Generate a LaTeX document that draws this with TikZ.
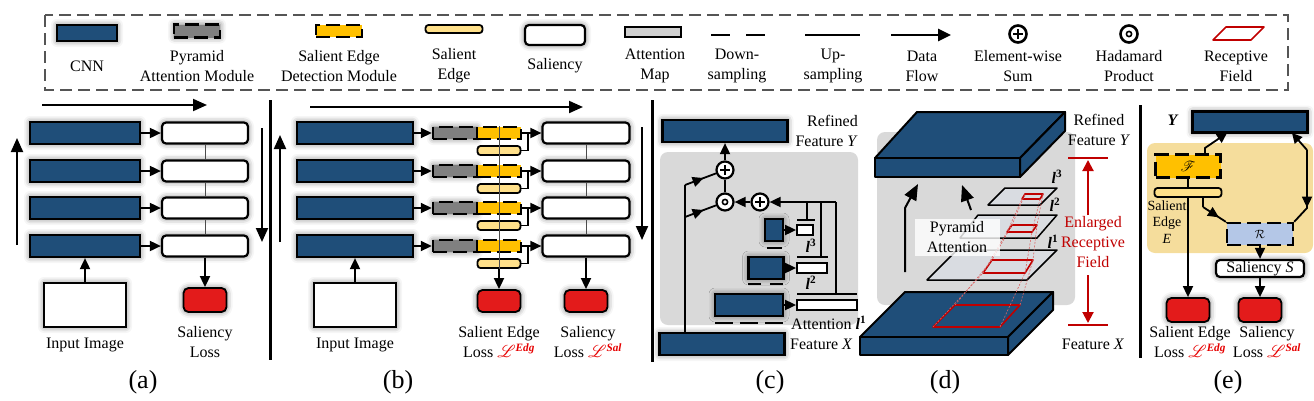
\documentclass[tikz,border=0pt]{standalone}
\usepackage{fontspec}
\setmainfont{Liberation Serif}
\usepackage{mathrsfs}
\usetikzlibrary{arrows.meta,shadows.blur,decorations.markings,calc}
\definecolor{cnnblue}{HTML}{1F4E79}
\definecolor{edgeyel}{HTML}{FFC000}
\definecolor{paleyel}{HTML}{FFE08A}
\definecolor{pagray}{HTML}{808080}
\definecolor{lossred}{HTML}{E31B1B}
\definecolor{bggray}{HTML}{D9D9D9}
\definecolor{beige}{HTML}{F5DD9C}
\definecolor{rblue}{HTML}{B4C7E7}
\definecolor{recred}{HTML}{C00000}
\definecolor{planegray}{HTML}{D9DCE1}
\definecolor{labred}{HTML}{E60000}
\definecolor{attgray}{HTML}{D0D0D0}
\definecolor{legdash}{HTML}{555555}
\newcommand{\Lsup}[1]{\textcolor{labred}{$\mathscr{L}$\textsuperscript{\bfseries\itshape #1}}}
\newcommand{\lvar}[1]{\textbf{\textit{l}}\textsuperscript{\bfseries #1}}
\tikzset{
  glow/.style={blur shadow={shadow xshift=0pt,shadow yshift=0pt,shadow blur radius=6pt,shadow opacity=55}},
  cnn/.style={draw=black,line width=2.2pt,fill=cnnblue,inner sep=0pt,glow},
  salbox/.style={draw=black,line width=2.2pt,fill=white,rounded corners=4pt,inner sep=0pt,glow},
  lossbox/.style={draw=black,line width=1.8pt,fill=lossred,rounded corners=5pt,inner sep=0pt,glow},
  imgbox/.style={draw=black,line width=2.4pt,fill=white,inner sep=0pt,glow},
  pambox/.style={draw=black,line width=2.4pt,fill=pagray,dash pattern=on 14pt off 6pt,inner sep=0pt},
  sedbox/.style={draw=black,line width=2.4pt,fill=edgeyel,dash pattern=on 14pt off 6pt,inner sep=0pt},
  rbox/.style={draw=black,line width=2.4pt,fill=rblue,dash pattern=on 14pt off 6pt,inner sep=0pt},
  edgebar/.style={draw=black,line width=1.8pt,fill=paleyel,rounded corners=3pt,inner sep=0pt},
  attbox/.style={draw=black,line width=1.8pt,fill=white,inner sep=0pt},
  flow/.style={line width=1.8pt,-{Triangle[length=11pt,width=10pt]}},
  bigflow/.style={line width=2pt,-{Triangle[length=14pt,width=12pt]}},
  plain/.style={line width=1.8pt},
  thinlink/.style={line width=1pt,draw=black!70},
  sepline/.style={line width=3pt},
  osum/.style={circle,draw=black,line width=2.2pt,fill=white,minimum size=17pt,inner sep=0pt,
     path picture={\draw[line width=1.8pt] ([xshift=-4.8pt]path picture bounding box.center) -- ([xshift=4.8pt]path picture bounding box.center);
     \draw[line width=1.8pt] ([yshift=-4.8pt]path picture bounding box.center) -- ([yshift=4.8pt]path picture bounding box.center);}},
  oprod/.style={circle,draw=black,line width=2.2pt,fill=white,minimum size=17pt,inner sep=0pt,
     path picture={\draw[line width=1.6pt] (path picture bounding box.center) circle[radius=2.6pt];}},
  lab/.style={align=center,inner sep=0pt},
  plab/.style={inner sep=0pt,font=\fontsize{26}{30}\selectfont},
  midarrow/.style={postaction={decorate},decoration={markings,mark=at position #1 with {\arrow{Triangle[length=11pt,width=10pt]}}}},
  slab/.style={draw=black,line width=2pt,fill=cnnblue,line join=round},
  plane/.style={draw=black,line width=1.5pt,fill=planegray,line join=round},
  rf/.style={draw=recred,line width=1.6pt,line join=round},
  rfdash/.style={draw=recred!60,line width=0.6pt,dash pattern=on 2pt off 1.5pt},
}
\begin{document}
\begin{tikzpicture}[x=1pt,y=-1pt,font=\fontsize{16}{20}\selectfont]
\useasboundingbox (0,0) rectangle (1314,400);
% ---------------- legend ----------------
\draw[line width=2.6pt,draw=legdash,dash pattern=on 12pt off 6pt] (45,15) rectangle (1288,90);
\node[cnn,minimum width=60,minimum height=16] (lgcnn) at (87,33) {};
\node[lab] (lgcnnt) at (87,66) {CNN};
\node[pambox,glow,minimum width=46,minimum height=13] (lgpam) at (197,31) {};
\node[lab] (lgpamt) at (197,66) {Pyramid\\Attention Module};
\node[sedbox,minimum width=46,minimum height=12] (lgsed) at (339,31) {};
\node[lab] (lgsedt) at (339,66) {Salient Edge\\Detection Module};
\node[edgebar,minimum width=57,minimum height=8] (lgedge) at (454,29) {};
\node[lab] (lgedget) at (454,66) {Salient\\Edge};
\node[salbox,minimum width=60,minimum height=20] (lgsal) at (555,35) {};
\node[lab] (lgsalt) at (555,66) {Saliency};
\node[attbox,fill=attgray,line width=2.4pt,minimum width=56,minimum height=10] (lgatt) at (653,32) {};
\node[lab] (lgattt) at (655,66) {Attention\\Map};
\coordinate (ld1) at (711,35); \coordinate (ld2) at (765,35);
\draw[line width=2.6pt,dash pattern=on 19pt off 16pt] (ld1) -- (ld2);
\node[lab] (lgdown) at (737,66) {Down-\\sampling};
\coordinate (lu1) at (805,35); \coordinate (lu2) at (860,35);
\draw[line width=2.6pt] (lu1) -- (lu2);
\node[lab] (lgup) at (833,66) {Up-\\sampling};
\coordinate (lf1) at (891,35); \coordinate (lf2) at (951,35);
\draw[line width=2.6pt,-{Triangle[length=13pt,width=12pt]}] (lf1) -- (lf2);
\node[lab] (lgflow) at (922,66) {Data\\Flow};
\node[osum,line width=2.6pt] (lgsum) at (1018,34) {};
\node[lab] (lgsumt) at (1018,66) {Element-wise\\Sum};
\node[oprod,line width=2.6pt] (lgprod) at (1129,34) {};
\node[lab] (lgprodt) at (1129,66) {Hadamard\\Product};
\draw[rf] (1213,40) -- (1226,27) -- (1264,27) -- (1251,40) -- cycle;
\node[lab] (lgrf) at (1236,66) {Receptive\\Field};
% ---------------- panel (a) ----------------
\node[cnn,minimum width=110,minimum height=22] (ac1) at (85,133) {};
\node[cnn,minimum width=110,minimum height=22] (ac2) at (85,171) {};
\node[cnn,minimum width=110,minimum height=22] (ac3) at (85,208) {};
\node[cnn,minimum width=110,minimum height=22] (ac4) at (85,246) {};
\node[salbox,minimum width=86,minimum height=21] (as1) at (205,133) {};
\node[salbox,minimum width=86,minimum height=21] (as2) at (205,171) {};
\node[salbox,minimum width=86,minimum height=21] (as3) at (205,208) {};
\node[salbox,minimum width=86,minimum height=21] (as4) at (205,246) {};
\draw[flow] (ac1.east) -- (as1.west);
\draw[flow] (ac2.east) -- (as2.west);
\draw[flow] (ac3.east) -- (as3.west);
\draw[flow] (ac4.east) -- (as4.west);
\draw[thinlink] (as1.south) -- (as2.north);
\draw[thinlink] (as2.south) -- (as3.north);
\draw[thinlink] (as3.south) -- (as4.north);
\coordinate (at1) at (42,105); \coordinate (at2) at (207,105);
\draw[bigflow] (at1) -- (at2);
\coordinate (al1) at (17,245); \coordinate (al2) at (17,138);
\draw[bigflow] (al1) -- (al2);
\coordinate (ar1) at (262,128); \coordinate (ar2) at (262,242);
\draw[bigflow] (ar1) -- (ar2);
\node[imgbox,minimum width=82,minimum height=44] (ain) at (85,305) {};
\draw[flow] (ain.north) -- (ac4.south);
\node[lossbox,minimum width=43,minimum height=24] (aloss) at (205,300) {};
\draw[flow] (as4.south) -- (aloss.north);
\node[lab] (aint) at (85,345) {Input Image};
\node[lab] (alosst) at (205,342) {Saliency\\Loss};
\node[plab] (pa) at (143,382) {(a)};
\draw[sepline] (270,100) -- (270,360);
% ---------------- panel (b) ----------------
\foreach \i/\r in {1/133,2/171,3/208,4/246}{
  \node[cnn,minimum width=116,minimum height=22] (bc\i) at (355,\r) {};
  \node[pambox,glow,minimum width=44,minimum height=12] (bp\i) at (455,\r) {};
  \node[sedbox,minimum width=44,minimum height=12] (bs\i) at (499,\r) {};
  \node[edgebar,minimum width=43,minimum height=9] (be\i) at (499,\r+17.5) {};
  \node[salbox,minimum width=87,minimum height=21] (bsal\i) at (586,\r) {};
  \coordinate (bj\i) at (528,\r);
  \draw[flow] (bc\i.east) -- (bp\i.west);
  \draw[plain] (bs\i.east) -- (bj\i);
  \draw[plain] (be\i.east) -| (bj\i);
  \draw[flow] (bj\i) -- (bsal\i.west);
}
\node[lossbox,minimum width=43,minimum height=22] (bloss1) at (499,301) {};
\node[lossbox,minimum width=43,minimum height=22] (bloss2) at (586,301) {};
\draw[thinlink] (bs1.north) -- (be4.south);
\draw[flow] (be4.south) -- (bloss1.north);
\draw[thinlink] (bsal1.south) -- (bsal2.north);
\draw[thinlink] (bsal2.south) -- (bsal3.north);
\draw[thinlink] (bsal3.south) -- (bsal4.north);
\draw[flow] (bsal4.south) -- (bloss2.north);
\coordinate (bt1) at (310,107); \coordinate (bt2) at (583,107);
\draw[bigflow] (bt1) -- (bt2);
\coordinate (bl1) at (280,242); \coordinate (bl2) at (280,135);
\draw[bigflow] (bl1) -- (bl2);
\coordinate (br1) at (642,127); \coordinate (br2) at (642,240);
\draw[bigflow] (br1) -- (br2);
\node[imgbox,minimum width=82,minimum height=44] (bin) at (355,305) {};
\draw[flow] (bin.north) -- (bc4.south);
\node[lab] (bint) at (355,345) {Input Image};
\node[lab] (bl1t) at (499,342) {Salient Edge\\Loss \Lsup{Edg}};
\node[lab] (bl2t) at (588,342) {Saliency\\Loss \Lsup{Sal}};
\node[plab] (pb) at (398,382) {(b)};
\draw[sepline] (652,100) -- (652,362);
% ---------------- panel (c) ----------------
\fill[bggray,rounded corners=8pt] (660,152) rectangle (858,325);
\node[cnn,minimum width=125,minimum height=22] (cY) at (725,131) {};
\node[cnn,minimum width=125,minimum height=22] (cX) at (722,344) {};
\node[lab,anchor=east,align=right] (cYt) at (858,131) {Refined\\Feature \textit{Y}};
\node[lab,anchor=west] (cXt) at (790,344) {Feature \textit{X}};
\node[osum] (cp1) at (725,170) {};
\node[oprod] (cd) at (725,202) {};
\node[osum] (cp2) at (760,202) {};
\draw[flow] (cp1.north) -- (cY.south -| cp1);
\draw[plain] (cd.north) -- (cp1.south);
\draw[flow] (cp2.west) -- (cd.east);
\coordinate (cb1) at (685,185); \coordinate (cb2) at (685,217);
\draw[plain] (cX.north -| cb1) -- (cb1);
\draw[plain,midarrow=0.6] (cb1) -- (cp1);
\draw[plain,midarrow=0.6] (cb2) -- (cd);
\coordinate (cr) at (836,202); \coordinate (cv3) at (807,202); \coordinate (cv2) at (821,202);
\draw[flow] (cr) -- (cp2.east);
\node[attbox,minimum width=16,minimum height=10] (ca3) at (805,230) {};
\node[attbox,minimum width=30,minimum height=10] (ca2) at (812,268) {};
\node[attbox,minimum width=60,minimum height=10] (ca1) at (827,305) {};
\coordinate (cb3) at (807,220); \coordinate (cb2b) at (821,257); \coordinate (cb1b) at (836,294);
\draw[plain] (cv3) -- (cb3);
\draw[plain] (cv2) -- (cb2b);
\draw[plain] (cr) -- (cb1b);
\draw[plain] (797,220) -- (815,220);
\draw[plain] (797,257) -- (828,257);
\draw[plain] (797,294) -- (857,294);
\node[cnn,minimum width=18,minimum height=22] (cc3) at (774,230) {};
\node[cnn,minimum width=35,minimum height=22] (cc2) at (766,268) {};
\node[cnn,minimum width=68,minimum height=22] (cc1) at (749,305) {};
\draw[flow] (cc3.east) -- (ca3.west);
\draw[flow] (cc2.east) -- (ca2.west);
\draw[flow] (cc1.east) -- (ca1.west);
\draw[plain] (767,248) -- (782,248);
\draw[line width=1.8pt,dash pattern=on 13pt off 9pt] (748,284) -- (783,284);
\draw[line width=1.8pt,dash pattern=on 18pt off 7pt] (715,323) -- (783,323);
\node[lab] (cl3) at (811,246) {\lvar{3}};
\node[lab] (cl2) at (811,283) {\lvar{2}};
\node[lab,anchor=west] (cl1) at (791,323) {Attention \lvar{1}};
\node[plab] (pc) at (770,382) {(c)};
% ---------------- panel (d) ----------------
\fill[bggray,rounded corners=8pt] (877,132) rectangle (1075,305);
\filldraw[slab] (860,337) -- (905,292) -- (1053,292) -- (1008,337) -- cycle;
\filldraw[slab] (860,337) rectangle (1008,355);
\filldraw[slab] (1008,337) -- (1053,292) -- (1053,310) -- (1008,355) -- cycle;
\draw[rf] (933,327) -- (955,305) -- (1020,305) -- (1000,327) -- cycle;
\filldraw[plane] (927,280) -- (957,250) -- (1057,250) -- (1027,280) -- cycle;
\draw[rf] (983,273) -- (992,260) -- (1033,260) -- (1025,273) -- cycle;
\filldraw[plane] (960,238) -- (978,215) -- (1057,215) -- (1037,238) -- cycle;
\draw[rf] (1007,232) -- (1012,225) -- (1037,225) -- (1032,232) -- cycle;
\filldraw[plane] (988,205) -- (1005,188) -- (1057,188) -- (1040,205) -- cycle;
\draw[rf] (1022,199) -- (1025,194) -- (1043,194) -- (1040,199) -- cycle;
\draw[rfdash] (955,305) -- (992,260) -- (1012,225) -- (1025,194);
\draw[rfdash] (1020,305) -- (1033,260) -- (1037,225) -- (1043,194);
\draw[rfdash] (933,327) -- (983,273) -- (1007,232) -- (1022,199);
\draw[rfdash] (1000,327) -- (1025,273) -- (1032,232) -- (1040,199);
\filldraw[slab] (875,158) -- (917,112) -- (1065,112) -- (1020,158) -- cycle;
\filldraw[slab] (875,158) rectangle (1020,177);
\filldraw[slab] (1020,158) -- (1065,112) -- (1065,131) -- (1020,177) -- cycle;
\coordinate (da1) at (905,272); \coordinate (da2) at (905,208); \coordinate (da3) at (918,184);
\draw[line width=2pt,-{Triangle[length=16pt,width=13pt]}] (da1) -- (da2) -- (da3);
\coordinate (db1) at (971,210); \coordinate (db2) at (962,185);
\draw[line width=2pt,-{Triangle[length=16pt,width=13pt]}] (db1) -- (db2);
\node[fill=white,fill opacity=0.8,text opacity=1,align=center,minimum width=85,minimum height=37,inner sep=0pt] (dpa) at (957,237) {Pyramid\\Attention};
\node[lab] (dl3) at (1057,177) {\lvar{3}};
\node[lab] (dl2) at (1055,205) {\lvar{2}};
\node[lab] (dl1) at (1053,242) {\lvar{1}};
\node[lab] (dYt) at (1099,130) {Refined\\Feature \textit{Y}};
\draw[recred,line width=2pt] (1068,158) -- (1108,158);
\draw[recred,line width=2pt] (1068,325) -- (1108,325);
\coordinate (dr1) at (1088,215); \coordinate (dr2) at (1088,160);
\coordinate (dr3) at (1088,275); \coordinate (dr4) at (1088,323);
\draw[recred,line width=2pt,-{Triangle[length=11pt,width=11pt]}] (dr1) -- (dr2);
\draw[recred,line width=2pt,-{Triangle[length=11pt,width=11pt]}] (dr3) -- (dr4);
\node[lab,text=recred] (dert) at (1093,242) {Enlarged\\Receptive\\Field};
\node[lab] (dXt) at (1093,344) {Feature \textit{X}};
\node[plab] (pd) at (945,382) {(d)};
\draw[sepline] (1140,105) -- (1140,358);
% ---------------- panel (e) ----------------
\fill[beige,rounded corners=8pt] (1147,143) rectangle (1313,253);
\node[cnn,minimum width=115,minimum height=21] (eY) at (1250,122) {};
\node[lab] (eYt) at (1173,120) {\textbf{\textit{Y}}};
\node[sedbox,minimum width=65,minimum height=23] (eF) at (1188,166) {\Large$\mathscr{F}$};
\node[edgebar,minimum width=67,minimum height=9] (eE) at (1188,192.5) {};
\node[lab,font=\fontsize{14}{16.5}\selectfont] (eEt) at (1167,222) {Salient\\Edge\\\textit{E}};
\node[rbox,minimum width=66,minimum height=22] (eR) at (1260,234) {\large$\mathcal{R}$};
\node[salbox,minimum width=88,minimum height=17] (eS) at (1260,268.5) {Saliency \textit{S}};
\node[lossbox,minimum width=43,minimum height=24] (el1) at (1188,310) {};
\node[lossbox,minimum width=43,minimum height=24] (el2) at (1260,310) {};
\draw[plain] (eF.south) -- (eE.north);
\draw[flow] (eE.south) -- (el1.north);
\draw[flow] (eR.south) -- (eS.north);
\draw[flow] (eS.south) -- (el2.north);
\coordinate (eyl) at (1227,133); \coordinate (ey1) at (1205,148);
\draw[plain,-{Triangle[length=10pt,width=10pt]}] (eF.north -| ey1) -- (ey1) -- (eyl);
\coordinate (eyr) at (1292,133); \coordinate (ey2) at (1307,150); \coordinate (ey3) at (1307,208);
\draw[plain,-{Triangle[length=10pt,width=10pt]}] (ey2) -- (eyr);
\draw[plain,midarrow=0.75] (ey2) -- (ey3) -- (eR.north east);
\coordinate (ee1) at (1203,207);
\draw[plain] (eE.south -| ee1) -- (ee1);
\draw[plain,midarrow=0.7] (ee1) -- (eR.north west);
\node[lab] (el1t) at (1190,342) {Salient Edge\\Loss \Lsup{Edg}};
\node[lab] (el2t) at (1267,342) {Saliency\\Loss \Lsup{Sal}};
\node[plab] (pe) at (1228,382) {(e)};
\end{tikzpicture}
\end{document}
